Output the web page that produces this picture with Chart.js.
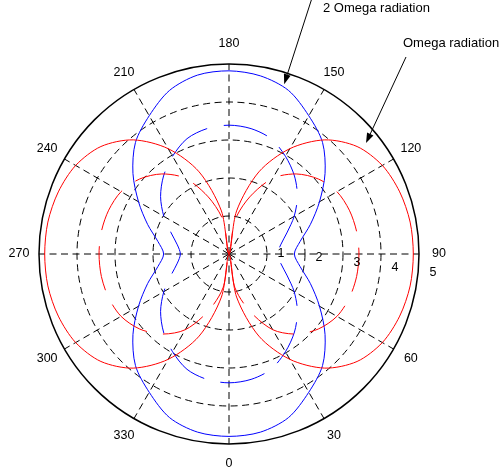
<!DOCTYPE html>
<html>
<head>
<meta charset="utf-8">
<title>Omega / 2 Omega radiation</title>
<script src="https://cdn.jsdelivr.net/npm/chart.js@4.4.1/dist/chart.umd.min.js"></script>
<style>
  html, body { margin: 0; padding: 0; background: #fff; }
  canvas { display: block; }
</style>
</head>
<body>
<canvas id="polarChart" width="500" height="475"></canvas>
<script>
// angle in degrees, 0 at the bottom, counter-clockwise
const angles = [0, 10, 20, 30, 40, 50, 60, 70, 80, 90, 100, 110, 120, 130, 140, 150, 160, 170,
  180, 190, 200, 210, 220, 230, 240, 250, 260, 270, 280, 290, 300, 310, 320, 330, 340, 350];

// Omega radiation (red)
const omegaSolid = [0, 1.15, 2.3, 3.2, 3.92, 4.4, 4.66, 4.78, 4.84, 4.85, 4.84, 4.78, 4.66, 4.4, 3.92, 3.2, 2.3, 1.15,
  0, 1.15, 2.3, 3.2, 3.92, 4.4, 4.66, 4.78, 4.84, 4.85, 4.84, 4.78, 4.66, 4.4, 3.92, 3.2, 2.3, 1.15];
const omegaDashed = [0, 0.9, 1.6, 2.3, 2.75, 3.07, 3.28, 3.37, 3.41, 3.42, 3.41, 3.37, 3.28, 3.07, 2.75, 2.3, 1.6, 0.9,
  0, 0.9, 1.6, 2.3, 2.75, 3.07, 3.28, 3.37, 3.41, 3.42, 3.41, 3.37, 3.28, 3.07, 2.75, 2.3, 1.6, 0.9];

// 2 Omega radiation (blue)
const omega2Solid = [4.8, 4.76, 4.58, 4.2, 3.83, 3.3, 2.75, 2.28, 1.9, 1.72, 1.9, 2.28, 2.75, 3.3, 3.83, 4.2, 4.58, 4.76,
  4.82, 4.78, 4.58, 4.2, 3.83, 3.3, 2.75, 2.28, 1.9, 1.72, 1.9, 2.28, 2.75, 3.3, 3.83, 4.2, 4.58, 4.76];
const omega2Dashed = [3.39, 3.35, 3.23, 2.97, 2.68, 2.35, 1.98, 1.62, 1.38, 1.28, 1.38, 1.62, 1.98, 2.35, 2.68, 2.97, 3.23, 3.35,
  3.39, 3.35, 3.23, 2.97, 2.68, 2.35, 1.98, 1.62, 1.38, 1.28, 1.38, 1.62, 1.98, 2.35, 2.68, 2.97, 3.23, 3.35];

const angleTicks = [0, 30, 60, 90, 120, 150, 180, 210, 240, 270, 300, 330];
const radiusTicks = [1, 2, 3, 4, 5];

// radar goes clockwise from the top, so start at 180 and count down
const order = angles.map((a, i) => (540 - i * 10) % 360);
const pick = series => order.map(a => series[angles.indexOf(a)]);

const FONT = '12.5px "Liberation Sans", Arial, Helvetica, sans-serif';

function polarXY(scale, deg, value) {
  const d = scale.getDistanceFromCenterForValue(value);
  const t = deg * Math.PI / 180;
  return { x: scale.xCenter + d * Math.sin(t), y: scale.yCenter + d * Math.cos(t) };
}

function arrow(ctx, x0, y0, x1, y1) {
  const a = Math.atan2(y1 - y0, x1 - x0);
  const len = 10, half = 3.5;
  ctx.beginPath();
  ctx.moveTo(x0, y0);
  ctx.lineTo(x1 - len * Math.cos(a), y1 - len * Math.sin(a));
  ctx.stroke();
  ctx.beginPath();
  ctx.moveTo(x1, y1);
  ctx.lineTo(x1 - len * Math.cos(a) + half * Math.sin(a), y1 - len * Math.sin(a) - half * Math.cos(a));
  ctx.lineTo(x1 - len * Math.cos(a) - half * Math.sin(a), y1 - len * Math.sin(a) + half * Math.cos(a));
  ctx.closePath();
  ctx.fill();
}

// length of one bezier piece between two line points
function pieceLength(a, b) {
  const c1x = a.cp2x ?? a.x, c1y = a.cp2y ?? a.y;
  const c2x = b.cp1x ?? b.x, c2y = b.cp1y ?? b.y;
  let len = 0, px = a.x, py = a.y;
  for (let j = 1; j <= 24; j++) {
    const t = j / 24, u = 1 - t;
    const x = u * u * u * a.x + 3 * u * u * t * c1x + 3 * u * t * t * c2x + t * t * t * b.x;
    const y = u * u * u * a.y + 3 * u * u * t * c1y + 3 * u * t * t * c2y + t * t * t * b.y;
    len += Math.hypot(x - px, y - py);
    px = x; py = y;
  }
  return len;
}

// stretch the dash pattern a little so it closes evenly on the loop
const dashWrap = {
  id: 'dashWrap',
  beforeDatasetDraw(chart, args) {
    const ds = chart.data.datasets[args.index];
    const line = args.meta.dataset;
    if (!line || !ds.borderDash) return;
    if (line.updateControlPoints) line.updateControlPoints(chart.chartArea, 'r');
    const pts = line.points;
    let total = 0;
    for (let i = 0; i < pts.length; i++) total += pieceLength(pts[i], pts[(i + 1) % pts.length]);
    const period = ds.borderDash[0] + ds.borderDash[1];
    const k = total / (Math.max(1, Math.round(total / period)) * period);
    if (isFinite(k)) line.options.borderDash = ds.borderDash.map(v => v * k);
  }
};

const polarText = {
  id: 'polarText',
  afterDraw(chart) {
    const r = chart.scales.r;
    const ctx = chart.ctx;
    ctx.save();
    ctx.fillStyle = '#000';
    ctx.strokeStyle = '#000';
    ctx.lineWidth = 1;
    ctx.font = FONT;
    ctx.textAlign = 'center';
    ctx.textBaseline = 'middle';

    // angle labels around the rim
    chart.data.labels.forEach((lab, i) => {
      if (!angleTicks.includes(Number(lab))) return;
      const p = r.getPointPosition(i, r.drawingArea + 20);
      ctx.fillText(lab, p.x, p.y);
    });

    // radius labels, slightly below the 90 degree spoke
    radiusTicks.forEach(v => {
      const d = r.getDistanceFromCenterForValue(v);
      ctx.fillText(String(v), r.xCenter + d + 14, r.yCenter - 5.5 + d * 0.125);
    });

    // annotations
    ctx.font = '13px "Liberation Sans", Arial, Helvetica, sans-serif';
    ctx.textAlign = 'left';
    ctx.fillText('2 Omega radiation', 323, 8);
    ctx.fillText('Omega radiation', 403, 43);

    const tip2 = polarXY(r, 162, 4.7);
    arrow(ctx, 312, -2, tip2.x, tip2.y);
    const tip1 = polarXY(r, 129, 4.64);
    arrow(ctx, 406, 57, tip1.x, tip1.y);
    ctx.restore();
  }
};

new Chart(document.getElementById('polarChart'), {
  type: 'radar',
  data: {
    labels: order.map(String),
    datasets: [
      { label: 'Omega', data: pick(omegaSolid), borderColor: '#ff0000' },
      { label: 'Omega dashed', data: pick(omegaDashed), borderColor: '#ff0000', borderDash: [44, 16], borderDashOffset: 22 },
      { label: '2 Omega', data: pick(omega2Solid), borderColor: '#0000ff' },
      { label: '2 Omega dashed', data: pick(omega2Dashed), borderColor: '#0000ff', borderDash: [44, 16], borderDashOffset: 6 }
    ]
  },
  options: {
    responsive: false,
    animation: false,
    events: [],
    layout: { padding: { left: 39, right: 81, top: 64, bottom: 31 } },
    elements: {
      line: { borderWidth: 1, tension: 0.3, fill: false },
      point: { radius: 0 }
    },
    plugins: { legend: { display: false }, tooltip: { enabled: false } },
    scales: {
      r: {
        min: 0,
        max: 5,
        startAngle: 0,
        ticks: { stepSize: 1, display: false },
        pointLabels: { display: false },
        grid: {
          circular: true,
          color: '#000',
          lineWidth: c => (c.index === radiusTicks.length ? 1.5 : 1)
        },
        border: { dash: c => (c.index === radiusTicks.length ? [] : [7, 4.5]) },
        angleLines: {
          color: '#000',
          lineWidth: c => (angleTicks.includes(Number(c.label)) ? 1 : 0),
          borderDash: [7, 4.5]
        }
      }
    }
  },
  plugins: [dashWrap, polarText]
});
</script>
</body>
</html>
